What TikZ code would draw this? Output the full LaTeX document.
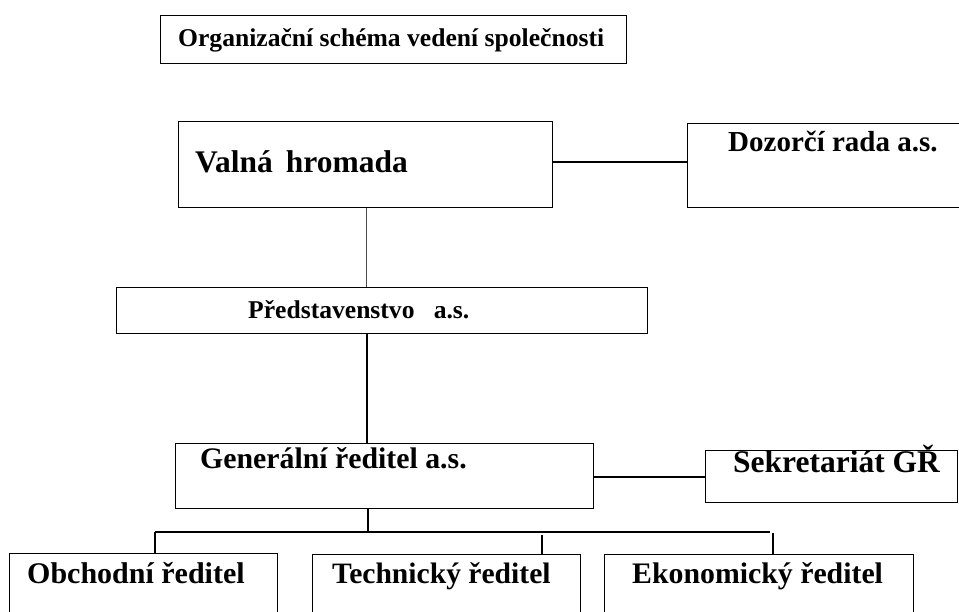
\documentclass[tikz,border=0pt]{standalone}
\usepackage{fontspec}
\setmainfont{Liberation Serif}
\tikzset{
  box/.style={draw, line width=1.4pt, anchor=north west, inner sep=0pt},
  txt/.style={anchor=base west, inner sep=0pt, font=\bfseries},
  conn/.style={line width=1.2pt},
}
\newcommand{\fs}[1]{\fontsize{#1}{#1}\selectfont}
\begin{document}
\begin{tikzpicture}[x=1pt,y=-1pt]
    \path[use as bounding box, clip] (0,0) rectangle (959,612);
    \node[box, minimum width=466pt, minimum height=48pt] (title) at (160,15) {};
    \node[txt] (titletxt) at (178,47) {\fs{25.6}Organizační schéma vedení společnosti};
    \node[box, minimum width=374pt, minimum height=86pt] (valna) at (178,121) {};
    \node[txt] (valnatxt) at (195,173) {\fs{31.5}Valná\, hromada};
    \node[box, minimum width=280pt, minimum height=84pt] (dozor) at (687,123) {};
    \node[txt] (dozortxt) at (728,152) {\fs{29}Dozorčí rada a.s.};
    \node[box, minimum width=531pt, minimum height=46pt] (pred) at (116,287) {};
    \node[txt] (predtxt) at (248,319) {\fs{25.6}Představenstvo\ \ \ a.s.};
    \node[box, minimum width=418pt, minimum height=65pt] (gen) at (175,443) {};
    \node[txt] (gentxt) at (200,468) {\fs{29.8}Generální ředitel a.s.};
    \node[box, minimum width=252pt, minimum height=52pt] (sekr) at (705,450) {};
    \node[txt] (sekrtxt) at (733,472) {\fs{31.5}Sekretariát GŘ};
    \node[box, minimum width=268pt, minimum height=80pt] (obch) at (9,553) {};
    \node[txt] (obchtxt) at (27,583) {\fs{30}Obchodní ředitel};
    \node[box, minimum width=268pt, minimum height=80pt] (tech) at (312,554) {};
    \node[txt] (techtxt) at (332,583) {\fs{29.6}Technický ředitel};
    \node[box, minimum width=309pt, minimum height=80pt] (ekon) at (604,554) {};
    \node[txt] (ekontxt) at (632,583) {\fs{29.8}Ekonomický ředitel};
    \coordinate (busl) at (155,532);
    \coordinate (busm) at (368,532);
    \coordinate (busr) at (770,532);
    \draw[conn] (valna.east |- 0,162) -- (dozor.west |- 0,162);
    \draw[line width=0.9pt, black!70] (valna.south -| 366,0) -- (pred.north -| 366,0);
    \draw[conn] (pred.south -| 367,0) -- (gen.north -| 367,0);
    \draw[conn] (gen.east |- 0,477) -- (sekr.west |- 0,477);
    \draw[conn] (gen.south -| busm) -- (busm);
    \draw[conn] (busl) -- (busr);
    \draw[conn] (busl) -- (obch.north -| busl);
    \draw[conn] (542,535) -- (tech.north -| 542,0);
    \draw[conn] (773,533) -- (ekon.north -| 773,0);
\end{tikzpicture}
\end{document}
